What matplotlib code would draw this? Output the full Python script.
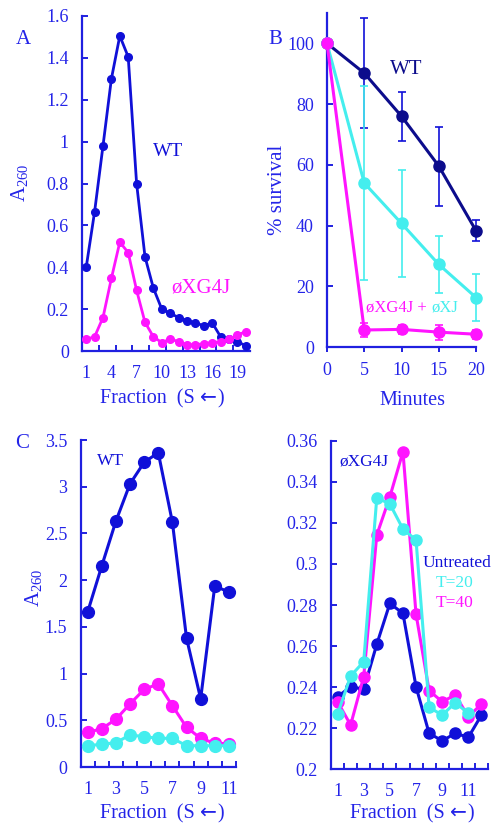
import matplotlib
matplotlib.use('Agg')
import matplotlib.pyplot as plt
import numpy as np

plt.rcParams['font.family'] = ['Liberation Serif', 'DejaVu Serif']
plt.rcParams['mathtext.fontset'] = 'custom'
plt.rcParams['mathtext.rm'] = 'Liberation Serif'
plt.rcParams['mathtext.it'] = 'Liberation Serif:italic'

# ---------------- data ----------------
fractions_a = list(range(1, 21))
a_wt = [0.40, 0.665, 0.98, 1.30, 1.505, 1.405, 0.80, 0.45, 0.30, 0.20,
        0.18, 0.16, 0.145, 0.135, 0.12, 0.135, 0.068, 0.055, 0.045, 0.025]
a_xg4j = [0.056, 0.068, 0.16, 0.347, 0.52, 0.47, 0.29, 0.137, 0.068, 0.04,
          0.057, 0.045, 0.03, 0.03, 0.035, 0.04, 0.045, 0.055, 0.077, 0.092]
a_xlabels = [1, 4, 7, 10, 13, 16, 19]

minutes = [0, 5, 10, 15, 20]
b_wt = [100, 90.2, 76, 59.6, 38.3]
b_wt_err = [0, 18, 8, 13, 3.5]
b_xj = [100, 54, 40.7, 27.2, 16.3]
b_xj_err = [0, 32, 17.5, 9.3, 7.7]
b_xg4j = [100, 5.6, 5.8, 4.9, 4.2]
b_xg4j_err = [0, 2.2, 1.5, 2.5, 1.5]

fractions_c = list(range(1, 12))
c_wt = [1.656, 2.15, 2.63, 3.03, 3.26, 3.365, 2.62, 1.38, 0.73, 1.94, 1.87]
c_t40 = [0.37, 0.41, 0.51, 0.675, 0.83, 0.89, 0.656, 0.425, 0.307, 0.254, 0.25]
c_t20 = [0.228, 0.243, 0.26, 0.343, 0.325, 0.307, 0.307, 0.228, 0.228, 0.228, 0.228]

fractions_d = list(range(1, 13))
d_untreated = [0.2353, 0.2402, 0.239, 0.2609, 0.2808, 0.2759, 0.2402, 0.2175,
               0.2139, 0.2175, 0.2156, 0.2264]
d_t20 = [0.2268, 0.2454, 0.2524, 0.3322, 0.3292, 0.317, 0.3116, 0.2302,
         0.2264, 0.2324, 0.2273]
d_t40 = [0.2329, 0.2216, 0.2451, 0.3141, 0.3327, 0.3546, 0.2755, 0.2383,
         0.2329, 0.2362, 0.2256, 0.2318]

# ---------------- style ----------------
BLUE = '#1010d8'
NAVY = '#0c0c8c'
MAG = '#ff14ff'
CYAN = '#44eeee'
TXT = '#2424e8'
SPINE = '#2020e0'

W, H = 492, 824
fig = plt.figure(figsize=(W / 100, H / 100), dpi=100)
renderer = fig.canvas.get_renderer()


def axes_px(left, top, right, bottom):
    return fig.add_axes([left / W, 1 - bottom / H, (right - left) / W, (bottom - top) / H])


def ftext(x, y, s, **kw):
    kw.setdefault('ha', 'center')
    kw.setdefault('va', 'center')
    return fig.text(x / W, 1 - y / H, s, **kw)


def rich(xc, y, parts, fontsize):
    """Draw text pieces left to right, centred at xc (pixels)."""
    texts = []
    for s, kw in parts:
        t = fig.text(0, 1 - y / H, s, fontsize=fontsize, va='baseline', ha='left', **kw)
        texts.append(t)
    widths = [t.get_window_extent(renderer).width for t in texts]
    total = sum(widths)
    x = xc - total / 2
    for t, w in zip(texts, widths):
        t.set_x(x / W)
        x += w


def fmt(v):
    return f'{v:g}'


def style(ax, xdir='in', xpad=10):
    for s in ['top', 'right']:
        ax.spines[s].set_visible(False)
    for s in ['left', 'bottom']:
        ax.spines[s].set_color(SPINE)
        ax.spines[s].set_linewidth(1.6)
    ax.tick_params(axis='both', which='both', colors=SPINE, labelcolor=TXT,
                   labelsize=13, width=1.4, length=4.5)
    ax.tick_params(axis='y', direction='in', pad=9.5)
    ax.tick_params(axis='x', which='both', direction=xdir, pad=xpad)
    ax.patch.set_alpha(0)


def fraction_axis(ax, n, labels):
    ax.set_xlim(0.5, n + 0.5)
    ax.set_xticks(labels)
    ax.set_xticklabels([str(v) for v in labels])
    ax.tick_params(axis='x', which='major', length=0)
    ax.set_xticks(np.arange(1.5, n + 0.6, 1), minor=True)


def fraction_label(xc, y):
    rich(xc, y, [('Fraction  (S ', dict(color=TXT)),
                 ('←', dict(color=TXT, family='DejaVu Sans')),
                 (')', dict(color=TXT))], 14.5)


# ---------------- Panel A ----------------
axA = axes_px(82, 16, 250, 351)
style(axA)
axA.plot(fractions_a, a_wt, '-o', color=BLUE, lw=2.0, ms=5.5, clip_on=False, zorder=3)
axA.plot(fractions_a, a_xg4j, '-o', color=MAG, lw=2.0, ms=5.5, clip_on=False, zorder=3)
axA.set_ylim(0, 1.6)
yt = np.round(np.arange(0, 1.61, 0.2), 2)
axA.set_yticks(yt)
axA.set_yticklabels([fmt(v) for v in yt])
axA.set_xlim(0.5, 20.5)
axA.set_xticks(a_xlabels)
axA.set_xticklabels([str(v) for v in a_xlabels])
axA.tick_params(axis='x', which='major', length=0)
axA.set_xticks(np.arange(2.5, 19, 2), minor=True)

ftext(23, 40, 'A', color=TXT, fontsize=15)
ftext(168, 152, 'WT', color=BLUE, fontsize=14)
ftext(201, 288, 'øXG4J', color=MAG, fontsize=15)
ftext(20, 183, r'A$_{\mathregular{260}}$', color=TXT, fontsize=15, rotation=90)
fraction_label(162, 403)

# ---------------- Panel B ----------------
axB = axes_px(327, 13, 476, 347)
style(axB, xdir='out', xpad=7)
axB.errorbar(minutes, b_wt, yerr=b_wt_err, fmt='-o', color=NAVY, ecolor=BLUE,
             elinewidth=1.2, capsize=3, capthick=1.2, lw=2.2, ms=8, clip_on=False, zorder=3)
axB.errorbar(minutes, b_xj, yerr=b_xj_err, fmt='-o', color=CYAN, ecolor=CYAN,
             elinewidth=1.2, capsize=3, capthick=1.2, lw=2.2, ms=8, clip_on=False, zorder=4)
axB.errorbar(minutes, b_xg4j, yerr=b_xg4j_err, fmt='-o', color=MAG, ecolor=MAG,
             elinewidth=1.2, capsize=3, capthick=1.2, lw=2.2, ms=8, clip_on=False, zorder=5)
axB.set_xlim(0, 20)
axB.set_ylim(0, 110)
axB.set_yticks([0, 20, 40, 60, 80, 100])
axB.set_xticks(minutes)
axB.tick_params(axis='x', length=3.5)

ftext(275, 39, 'B', color=TXT, fontsize=15)
ftext(406, 70, 'WT', color=NAVY, fontsize=15)
ftext(278, 190, '% survival', color=TXT, fontsize=15, rotation=90)
ftext(412, 401, 'Minutes', color=TXT, fontsize=14.5)
rich(412, 311, [('øXG4J + ', dict(color=MAG)), ('øXJ', dict(color=CYAN))], 12)

# ---------------- Panel C ----------------
axC = axes_px(80.5, 440, 236, 767)
style(axC)
axC.plot(fractions_c, c_wt, '-o', color=BLUE, lw=2.2, ms=8.5, clip_on=False, zorder=3)
axC.plot(fractions_c, c_t40, '-o', color=MAG, lw=2.2, ms=8.5, clip_on=False, zorder=3)
axC.plot(fractions_c, c_t20, '-o', color=CYAN, lw=2.2, ms=8.5, clip_on=False, zorder=4)
axC.set_ylim(0, 3.5)
yt = np.round(np.arange(0, 3.51, 0.5), 2)
axC.set_yticks(yt)
axC.set_yticklabels([fmt(v) for v in yt])
fraction_axis(axC, 11, [1, 3, 5, 7, 9, 11])

ftext(22, 443, 'C', color=TXT, fontsize=15)
ftext(110, 461, 'WT', color=BLUE, fontsize=12.5)
ftext(33, 588, r'A$_{\mathregular{260}}$', color=TXT, fontsize=15, rotation=90)
fraction_label(162, 818)

# ---------------- Panel D ----------------
axD = axes_px(331, 440.7, 488, 769.3)
style(axD)
axD.plot(fractions_d, d_untreated, '-o', color=BLUE, lw=2.2, ms=8, clip_on=False, zorder=3)
axD.plot(fractions_d, d_t40, '-o', color=MAG, lw=2.2, ms=8, clip_on=False, zorder=3)
axD.plot(fractions_d[:len(d_t20)], d_t20, '-o', color=CYAN, lw=2.2, ms=8, clip_on=False, zorder=4)
axD.set_ylim(0.2, 0.36)
yt = np.round(np.arange(0.2, 0.3601, 0.02), 2)
axD.set_yticks(yt)
axD.set_yticklabels([fmt(v) for v in yt])
fraction_axis(axD, 12, [1, 3, 5, 7, 9, 11])

ftext(364, 462, 'øXG4J', color=BLUE, fontsize=12.5)
ftext(457, 563, 'Untreated', color=BLUE, fontsize=12.5)
ftext(455, 583, 'T=20', color=CYAN, fontsize=12.5)
ftext(455, 603, 'T=40', color=MAG, fontsize=12.5)
fraction_label(412, 818)

fig.savefig('out.png', dpi=100)
